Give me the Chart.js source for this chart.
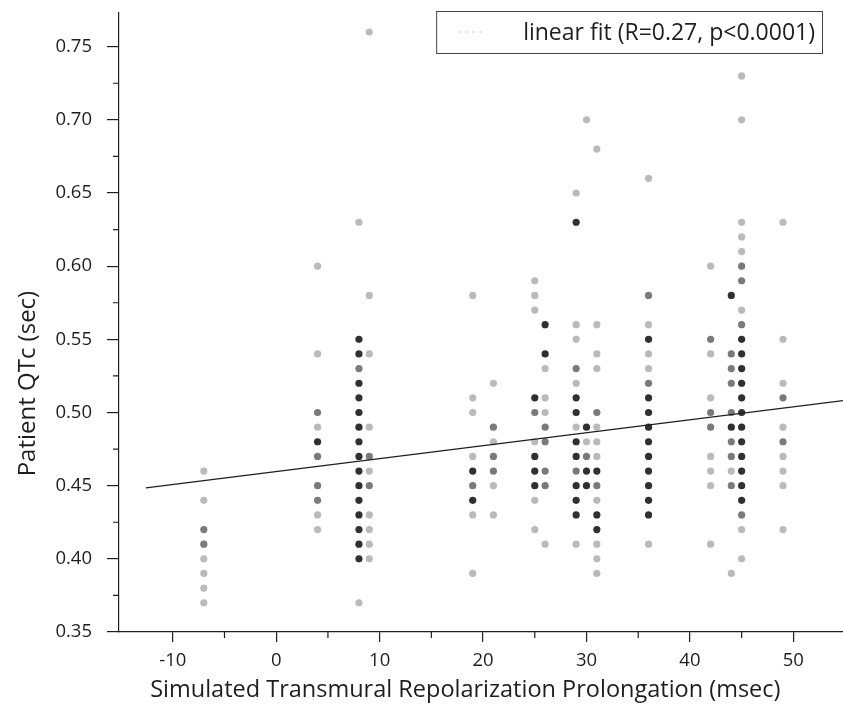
<!DOCTYPE html>
<html>
<head>
<meta charset="utf-8">
<script src="https://cdn.jsdelivr.net/npm/chart.js@4.4.1/dist/chart.umd.min.js"></script>
<style>
  html, body { margin: 0; padding: 0; background: #fff; }
  #wrap { width: 843px; height: 717px; }
</style>
</head>
<body>
<div id="wrap"><canvas id="qtc-chart" width="843" height="717"></canvas></div>
<script>
// axis ticks
const xTicks = [-10, 0, 10, 20, 30, 40, 50];
const xMinorTicks = [-5, 5, 15, 25, 35, 45];
const yTicks = [0.35, 0.40, 0.45, 0.50, 0.55, 0.60, 0.65, 0.70, 0.75];
const yMinorTicks = [0.375, 0.425, 0.475, 0.525, 0.575, 0.625, 0.675, 0.725];

const xTitle = 'Simulated Transmural Repolarization Prolongation (msec)';
const yTitle = 'Patient QTc (sec)';
const fitLabel = 'linear fit (R=0.27, p<0.0001)';

// points, per x column, grouped by how dark they print
// (darker = several patients on the same spot)
const lightCols = [
  [-7, [0.46, 0.44, 0.40, 0.39, 0.38, 0.37]],
  [4, [0.60, 0.54, 0.49, 0.43, 0.42]],
  [8, [0.63, 0.37]],
  [9, [0.76, 0.58, 0.54, 0.49, 0.46, 0.43, 0.42, 0.41, 0.40]],
  [19, [0.58, 0.51, 0.50, 0.47, 0.43, 0.39]],
  [21, [0.52, 0.48, 0.45, 0.43]],
  [25, [0.59, 0.58, 0.57, 0.48, 0.44, 0.42]],
  [26, [0.53, 0.51, 0.50, 0.41]],
  [29, [0.65, 0.56, 0.55, 0.52, 0.49, 0.41]],
  [30, [0.70, 0.48]],
  [31, [0.68, 0.56, 0.54, 0.53, 0.49, 0.48, 0.47, 0.44, 0.41, 0.40, 0.39]],
  [36, [0.66, 0.56, 0.54, 0.53, 0.41]],
  [42, [0.60, 0.54, 0.51, 0.47, 0.46, 0.45, 0.41]],
  [44, [0.46, 0.39]],
  [45, [0.73, 0.70, 0.63, 0.62, 0.61, 0.57, 0.42, 0.40]],
  [49, [0.63, 0.55, 0.52, 0.49, 0.47, 0.46, 0.45, 0.42]]
];

const midCols = [
  [-7, [0.42, 0.41]],
  [4, [0.50, 0.47, 0.45, 0.44]],
  [8, [0.53]],
  [9, [0.47, 0.45]],
  [19, [0.45]],
  [21, [0.49, 0.47, 0.46]],
  [25, [0.50]],
  [26, [0.49, 0.48, 0.46, 0.45]],
  [29, [0.53, 0.46]],
  [30, [0.47]],
  [31, [0.50, 0.45]],
  [36, [0.58, 0.52]],
  [42, [0.55, 0.50, 0.49]],
  [44, [0.54, 0.53, 0.52, 0.50, 0.48, 0.47, 0.45]],
  [45, [0.60, 0.59, 0.56, 0.43]],
  [49, [0.51, 0.48]]
];

const darkCols = [
  [4, [0.48]],
  [8, [0.55, 0.54, 0.52, 0.51, 0.50, 0.49, 0.48, 0.47, 0.46, 0.45, 0.44, 0.43, 0.42, 0.41, 0.40]],
  [19, [0.46, 0.44]],
  [25, [0.51, 0.47, 0.46, 0.45]],
  [26, [0.56, 0.54]],
  [29, [0.63, 0.51, 0.50, 0.48, 0.47, 0.45, 0.44, 0.43]],
  [30, [0.49, 0.46, 0.45]],
  [31, [0.46, 0.43, 0.42]],
  [36, [0.55, 0.51, 0.50, 0.49, 0.48, 0.47, 0.46, 0.45, 0.44, 0.43]],
  [44, [0.58, 0.49]],
  [45, [0.55, 0.54, 0.53, 0.52, 0.51, 0.50, 0.49, 0.48, 0.47, 0.46, 0.45, 0.44]]
];

// regression line end points
const fitX = [-12.6, 54.8];
const fitY = [0.4485, 0.5081];

const ink = '#1e1e1e';
const toXY = cols => cols.flatMap(([x, ys]) => ys.map(y => ({ x, y })));

function dotSet(label, cols, color, order) {
  return {
    type: 'scatter',
    label,
    data: toXY(cols),
    pointRadius: 3.6,
    pointBorderWidth: 0,
    pointBackgroundColor: color,
    order
  };
}

// drop the label overflow padding chart.js adds around the plot
function noPad(axis) {
  axis.paddingTop = 0;
  axis.paddingBottom = 0;
  axis.paddingLeft = 0;
  axis.paddingRight = 0;
}

// minor ticks, axis titles and the framed legend
const extras = {
  id: 'extras',
  afterDraw(chart) {
    const { ctx, chartArea: area, scales: { x, y } } = chart;
    ctx.save();
    ctx.strokeStyle = ink;
    ctx.lineWidth = 1.2;
    ctx.beginPath();
    xMinorTicks.forEach(v => {
      const px = x.getPixelForValue(v);
      ctx.moveTo(px, area.bottom);
      ctx.lineTo(px, area.bottom + 6);
    });
    yMinorTicks.forEach(v => {
      const py = y.getPixelForValue(v);
      ctx.moveTo(area.left, py);
      ctx.lineTo(area.left - 6, py);
    });
    ctx.stroke();

    ctx.fillStyle = ink;
    ctx.textAlign = 'center';
    ctx.textBaseline = 'middle';
    ctx.font = '23.5px "Open Sans"';
    ctx.fillText(xTitle, chart.width * 0.552, area.bottom + 58);

    ctx.save();
    ctx.font = '24px "Open Sans"';
    ctx.translate(28, chart.height * 0.535);
    ctx.rotate(-Math.PI / 2);
    ctx.fillText(yTitle, 0, 0);
    ctx.restore();

    // legend box
    ctx.font = '23px "Open Sans"';
    const tw = ctx.measureText(fitLabel).width;
    const right = area.right - 21;
    const textRight = right - 7;
    const left = textRight - tw - 87;
    const top = area.top - 2;
    const h = 42;
    ctx.lineWidth = 1;
    ctx.strokeStyle = '#444';
    ctx.strokeRect(left + 0.5, top + 0.5, right - left, h);
    ctx.strokeStyle = '#cfcfcf';
    ctx.setLineDash([3, 4]);
    ctx.beginPath();
    ctx.moveTo(left + 22, top + h / 2);
    ctx.lineTo(left + 46, top + h / 2);
    ctx.stroke();
    ctx.setLineDash([]);
    ctx.textAlign = 'right';
    ctx.fillStyle = ink;
    ctx.fillText(fitLabel, textRight, top + h / 2 + 1);
    ctx.restore();
  }
};

const tickFont = { family: 'Open Sans', size: 18.5 };

new Chart(document.getElementById('qtc-chart'), {
  data: {
    datasets: [
      {
        type: 'line',
        label: fitLabel,
        data: fitX.map((x, i) => ({ x, y: fitY[i] })),
        borderColor: ink,
        borderWidth: 1.3,
        pointRadius: 0,
        fill: false,
        order: 0
      },
      dotSet('dark', darkCols, '#303030', 1),
      dotSet('mid', midCols, '#7a7a7a', 2),
      dotSet('light', lightCols, '#bababa', 3)
    ]
  },
  options: {
    responsive: false,
    animation: false,
    devicePixelRatio: 1,
    layout: { autoPadding: false, padding: { top: 13, right: 0, left: 0, bottom: 0 } },
    plugins: {
      legend: { display: false },
      tooltip: { enabled: false }
    },
    scales: {
      x: {
        type: 'linear',
        min: -15.2,
        max: 54.8,
        afterBuildTicks: axis => { axis.ticks = xTicks.map(value => ({ value })); },
        afterFit: axis => { axis.height = 85; noPad(axis); },
        ticks: { font: tickFont, color: ink, padding: 8, maxRotation: 0, autoSkip: false },
        grid: { drawOnChartArea: false, tickLength: 10, color: ink, lineWidth: 1.2 },
        border: { color: ink, width: 1.2 }
      },
      y: {
        type: 'linear',
        min: 0.35,
        max: 0.773,
        afterBuildTicks: axis => { axis.ticks = yTicks.map(value => ({ value })); },
        afterFit: axis => { axis.width = 119; noPad(axis); },
        ticks: {
          font: tickFont,
          color: ink,
          padding: 15,
          autoSkip: false,
          callback: v => v.toFixed(2)
        },
        grid: { drawOnChartArea: false, tickLength: 12, color: ink, lineWidth: 1.2 },
        border: { color: ink, width: 1.2 }
      }
    }
  },
  plugins: [extras]
});
</script>
</body>
</html>
